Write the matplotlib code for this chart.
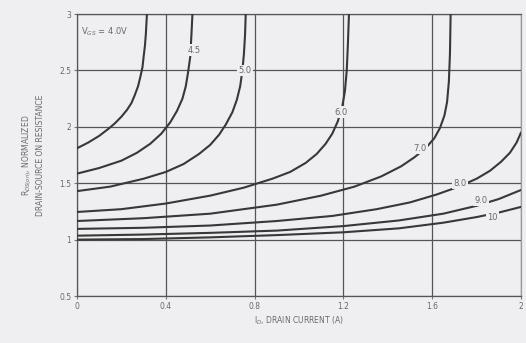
import matplotlib.pyplot as plt

# Normalized on-resistance vs drain current, one curve per gate voltage
vgs_labels = ["4.0", "4.5", "5.0", "6.0", "7.0", "8.0", "9.0", "10"]

id_40 = [0, 0.05, 0.1, 0.14, 0.17, 0.2, 0.225, 0.245, 0.26, 0.275, 0.285, 0.295, 0.30, 0.306, 0.31, 0.315]
rds_40 = [1.81, 1.86, 1.92, 1.98, 2.03, 2.09, 2.15, 2.21, 2.28, 2.36, 2.44, 2.53, 2.62, 2.72, 2.82, 3.0]

id_45 = [0, 0.1, 0.2, 0.27, 0.33, 0.38, 0.42, 0.45, 0.475, 0.49, 0.5, 0.51, 0.515, 0.52]
rds_45 = [1.585, 1.635, 1.70, 1.77, 1.85, 1.94, 2.04, 2.14, 2.25, 2.36, 2.48, 2.62, 2.8, 3.0]

id_50 = [0, 0.15, 0.3, 0.4, 0.48, 0.55, 0.6, 0.64, 0.67, 0.7, 0.72, 0.735, 0.745, 0.752, 0.757, 0.76]
rds_50 = [1.43, 1.47, 1.54, 1.60, 1.67, 1.76, 1.84, 1.93, 2.02, 2.13, 2.24, 2.36, 2.5, 2.65, 2.82, 3.0]

id_60 = [0, 0.2, 0.4, 0.6, 0.75, 0.88, 0.96, 1.03, 1.08, 1.12, 1.15, 1.175, 1.195, 1.207, 1.215, 1.22, 1.225]
rds_60 = [1.245, 1.27, 1.32, 1.39, 1.46, 1.54, 1.60, 1.68, 1.76, 1.85, 1.94, 2.05, 2.18, 2.32, 2.5, 2.72, 3.0]

id_70 = [0, 0.3, 0.6, 0.9, 1.1, 1.25, 1.37, 1.46, 1.52, 1.57, 1.61, 1.635, 1.655, 1.667, 1.675, 1.68, 1.683]
rds_70 = [1.165, 1.19, 1.23, 1.31, 1.39, 1.47, 1.56, 1.65, 1.73, 1.81, 1.90, 1.99, 2.1, 2.22, 2.4, 2.65, 3.0]

id_80 = [0, 0.3, 0.6, 0.9, 1.15, 1.35, 1.5, 1.62, 1.72, 1.8, 1.86, 1.91, 1.95, 1.98, 2.0]
rds_80 = [1.095, 1.105, 1.125, 1.165, 1.21, 1.27, 1.33, 1.40, 1.47, 1.54, 1.61, 1.69, 1.77, 1.86, 1.95]

id_90 = [0, 0.3, 0.6, 0.9, 1.2, 1.45, 1.65, 1.8, 1.9, 2.0]
rds_90 = [1.035, 1.045, 1.06, 1.08, 1.12, 1.17, 1.23, 1.30, 1.36, 1.44]

id_100 = [0, 0.3, 0.6, 0.9, 1.2, 1.45, 1.65, 1.8, 1.9, 2.0]
rds_100 = [1.0, 1.005, 1.02, 1.04, 1.065, 1.10, 1.15, 1.20, 1.24, 1.29]

# where each curve label sits (x, y)
label_x = [0.02, 0.53, 0.757, 1.19, 1.545, 1.725, 1.82, 1.87]
label_y = [2.84, 2.68, 2.50, 2.13, 1.81, 1.50, 1.345, 1.20]

x_ticks = [0, 0.4, 0.8, 1.2, 1.6, 2]
x_ticklabels = ["0", "0.4", "0.8", "1.2", "1.6", "2"]
y_ticks = [0.5, 1, 1.5, 2, 2.5, 3]
y_ticklabels = ["0.5", "1", "1.5", "2", "2.5", "3"]

BG = '#efeef1'
INK = '#383838'
TXT = '#6a6a6a'

fig = plt.figure(figsize=(5.26, 3.43), dpi=100, facecolor=BG)
ax = fig.add_axes([0.1464, 0.137, 0.8441, 0.822], facecolor=BG)

curves = [(id_40, rds_40), (id_45, rds_45), (id_50, rds_50), (id_60, rds_60),
          (id_70, rds_70), (id_80, rds_80), (id_90, rds_90), (id_100, rds_100)]
for xs, ys in curves:
    ax.plot(xs, ys, color=INK, linewidth=1.5, solid_joinstyle='round',
            solid_capstyle='round', zorder=3)

for i, lab in enumerate(vgs_labels):
    if i == 0:
        ax.text(label_x[i], label_y[i], r"V$_{GS}$ = 4.0V", fontsize=6, color=TXT,
                ha='left', va='center', zorder=5)
    else:
        ax.text(label_x[i], label_y[i], lab, fontsize=6, color=TXT, ha='center', va='center',
                zorder=5, bbox=dict(boxstyle='square,pad=0.15', fc=BG, ec='none'))

ax.set_xlim(0, 2)
ax.set_ylim(0.5, 3)
ax.set_xticks(x_ticks)
ax.set_xticklabels(x_ticklabels)
ax.set_yticks(y_ticks)
ax.set_yticklabels(y_ticklabels)
ax.tick_params(labelsize=5.5, labelcolor=TXT, color='#777777', length=2, width=0.8, pad=2)

ax.grid(True, color='#555555', linewidth=0.9, zorder=1)
for side in ['top', 'left', 'bottom', 'right']:
    ax.spines[side].set_color('#555555')
    ax.spines[side].set_linewidth(0.9)
ax.spines['right'].set_color('#999999')

ax.set_xlabel(r"I$_D$, DRAIN CURRENT (A)", fontsize=5.5, color=TXT, labelpad=3)
ax.set_ylabel("R$_{DS(on)}$, NORMALIZED\nDRAIN-SOURCE ON RESISTANCE", fontsize=5.5,
              color=TXT, labelpad=10, linespacing=1.3)

fig.savefig("out.png", dpi=100, facecolor=BG)
